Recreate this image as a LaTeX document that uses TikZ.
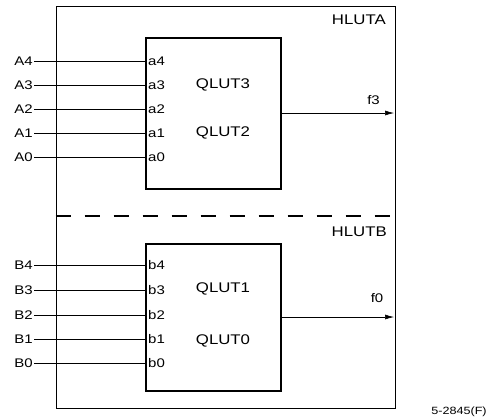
\documentclass[tikz,border=0pt]{standalone}
\usepackage{fontspec}
\setmainfont{Liberation Sans}[FakeStretch=1.2]
\usetikzlibrary{arrows.meta,calc}
\begin{document}
\begin{tikzpicture}[x=1pt,y=-1pt,
  lab/.style={inner sep=1pt,font=\fontsize{12.5}{14}\selectfont},
  big/.style={inner sep=1pt,font=\fontsize{14}{16}\selectfont},
  box/.style={draw,line width=1.6pt,inner sep=0pt,anchor=north west},
  sig/.style={line width=0.6pt},
  outp/.style={line width=0.6pt,-{Latex[length=9pt,width=5pt]}},
  sep/.style={line width=1.2pt,dash pattern=on 15pt off 14pt}]
\useasboundingbox (0,0) rectangle (494,418);
\node[box,minimum width=339pt,minimum height=402pt] (outer) at (55.5,5.5) {};
\node[box,minimum width=135pt,minimum height=151pt] (qa) at (145,37) {};
\node[box,minimum width=135pt,minimum height=147pt] (qb) at (145,243) {};
\coordinate (dl) at (55.5,216);
\coordinate (dr) at (394.5,216);
\draw[sep] (dl) -- (dr);
\node[big,anchor=east] (hla) at (387,20) {HLUTA};
\node[big,anchor=east] (hlb) at (388,232) {HLUTB};
\node[big] (q3) at (223,85) {QLUT3};
\node[big] (q2) at (223,133) {QLUT2};
\node[big] (q1) at (223,289) {QLUT1};
\node[big] (q0) at (223,341) {QLUT0};
\foreach \n/\y in {4/61,3/85,2/109,1/133,0/157}{
  \node[lab,anchor=east] (A\n) at (34,\y) {A\n};
  \coordinate (pa\n) at (145,\y);
  \node[lab,anchor=west] (a\n) at (147,\y) {a\n};
  \draw[sig] (A\n.east) -- (pa\n);
}
\foreach \n/\y in {4/265,3/290,2/315,1/339,0/363}{
  \node[lab,anchor=east] (B\n) at (34,\y) {B\n};
  \coordinate (pb\n) at (145,\y);
  \node[lab,anchor=west] (b\n) at (147,\y) {b\n};
  \draw[sig] (B\n.east) -- (pb\n);
}
\coordinate (oa) at (394,113);
\coordinate (ob) at (394,317);
\draw[outp] (qa.east |- oa) -- (oa);
\draw[outp] (qb.east |- ob) -- (ob);
\node[lab] (f3) at (373.5,100) {f3};
\node[lab] (f0) at (377,298) {f0};
\node[inner sep=1pt,font=\fontsize{10.5}{12}\selectfont] (fig) at (459,412) {5-2845(F)};
\end{tikzpicture}
\end{document}
